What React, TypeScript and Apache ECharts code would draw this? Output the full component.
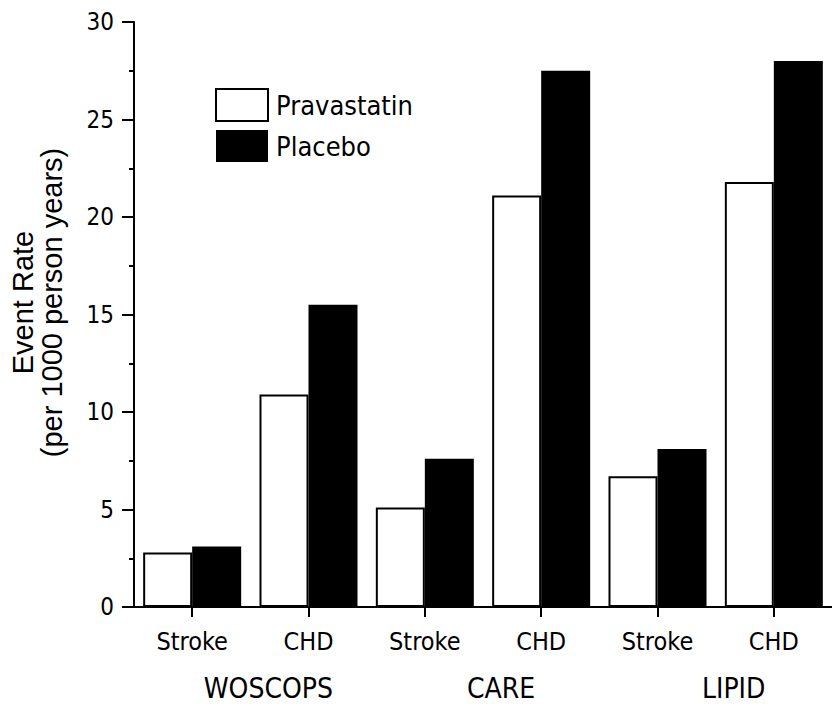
import React, { useEffect, useRef } from "react";
import * as echarts from "echarts";

const categories = ["Stroke", "CHD", "Stroke", "CHD", "Stroke", "CHD"];
const groups = ["WOSCOPS", "CARE", "LIPID"];
const pravastatin = [2.8, 10.9, 5.1, 21.1, 6.7, 21.8];
const placebo = [3.1, 15.5, 7.6, 27.5, 8.1, 28.0];
const seriesNames = ["Pravastatin", "Placebo"];

const NARROW = "'Liberation Sans Narrow', 'Arial Narrow', 'DejaVu Sans Condensed', 'Liberation Sans', sans-serif";
const FONT = "'Liberation Sans', Arial, sans-serif";

export default function App() {
  const ref = useRef<HTMLDivElement>(null);
  useEffect(() => {
    document.body.style.margin = "0";
    const chart = echarts.init(ref.current!, null, { renderer: "svg" });
    chart.setOption({
      animation: false,
      backgroundColor: "#ffffff",
      textStyle: { fontFamily: NARROW, color: "#000" },
      legend: {
        orient: "vertical",
        left: 210,
        top: 83,
        itemWidth: 52,
        itemHeight: 32,
        itemGap: 8,
        icon: "rect",
        textStyle: { fontSize: 27, color: "#000", fontFamily: NARROW, padding: [0, 0, 0, 3] },
        data: seriesNames,
      },
      grid: { left: 131, top: 22, width: 711, height: 585 },
      xAxis: [
        {
          type: "category",
          data: categories,
          position: "bottom",
          axisLine: { show: true, lineStyle: { color: "#000", width: 2 } },
          axisTick: { show: true, alignWithLabel: true, length: 10, lineStyle: { color: "#000", width: 2 } },
          axisLabel: { fontSize: 25, color: "#000", margin: 22, fontFamily: NARROW },
        },
        {
          type: "category",
          data: groups,
          position: "bottom",
          axisLine: { show: false },
          axisTick: { show: false },
          axisLabel: { fontSize: 28, color: "#000", margin: 67, fontFamily: NARROW, padding: [0, 0, 0, 36] },
        },
      ],
      yAxis: {
        type: "value",
        min: 0,
        max: 30,
        interval: 5,
        name: "Event Rate\n(per 1000 person years)",
        nameLocation: "middle",
        nameRotate: 90,
        nameGap: 68,
        nameTextStyle: { fontSize: 29, lineHeight: 29, color: "#000", fontFamily: FONT, align: "center", padding: [0, 0, 0, 24] },
        axisLine: { show: true, lineStyle: { color: "#000", width: 2 } },
        axisTick: { show: true, length: 12, lineStyle: { color: "#000", width: 2 } },
        minorTick: { show: true, splitNumber: 2, length: 5, lineStyle: { color: "#000", width: 2 } },
        splitLine: { show: false },
        axisLabel: { fontSize: 24, color: "#000", margin: 20, fontFamily: NARROW },
      },
      series: [
        {
          name: seriesNames[0],
          type: "bar",
          xAxisIndex: 0,
          data: pravastatin,
          barWidth: 49,
          barGap: "0%",
          itemStyle: { color: "#ffffff", borderColor: "#000", borderWidth: 2 },
        },
        {
          name: seriesNames[1],
          type: "bar",
          xAxisIndex: 0,
          data: placebo,
          barWidth: 49,
          barGap: "0%",
          itemStyle: { color: "#000000" },
        },
      ],
    });
    return () => chart.dispose();
  }, []);
  return <div ref={ref} style={{ width: 832, height: 704 }} />;
}
